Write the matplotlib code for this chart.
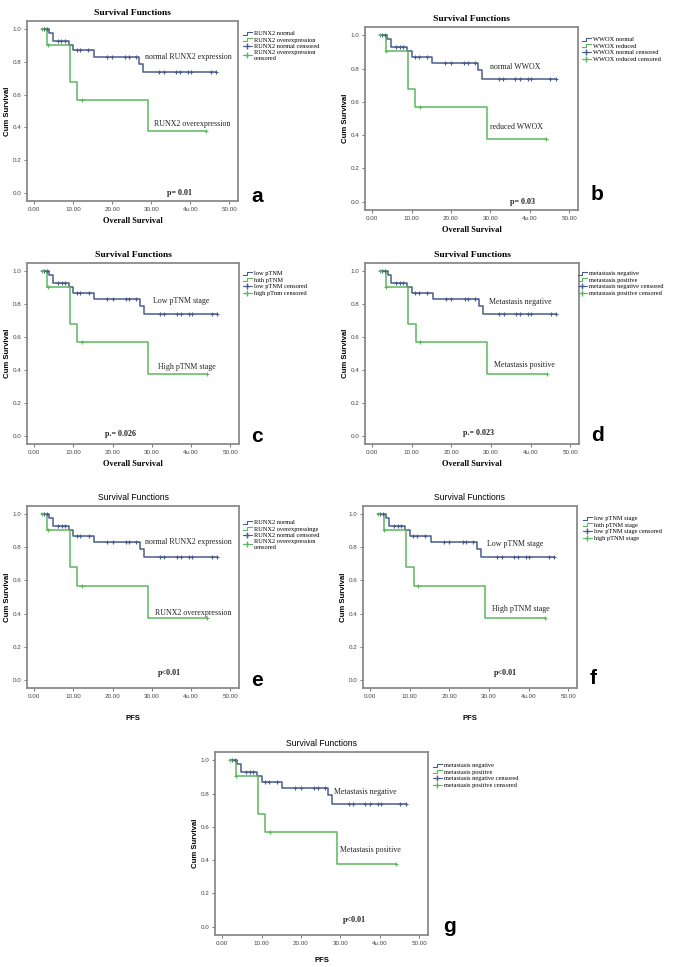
import numpy as np
import matplotlib
matplotlib.use('Agg')
import matplotlib.pyplot as plt
from matplotlib.lines import Line2D
from matplotlib.legend_handler import HandlerBase

# Kaplan-Meier curves (same shape in every panel)
normal_t = [2.0, 3.9, 4.8, 8.9, 10.0, 15.3, 26.9, 27.9, 46.5]
normal_s = [1.0, 0.978, 0.927, 0.904, 0.87, 0.833, 0.79, 0.74, 0.74]
normal_cens = [2.6, 3.2, 6.1, 7.0, 7.8, 10.9, 11.8, 13.9, 18.6, 20.0, 23.4,
               24.3, 26.0, 32.1, 33.2, 36.3, 37.4, 39.4, 40.2, 45.2, 46.5]

other_t = [2.0, 3.4, 9.1, 11.0, 29.1, 44.0]
other_s = [1.0, 0.905, 0.68, 0.567, 0.376, 0.376]
other_cens = [2.0, 3.6, 12.2, 44.0]

x_ticks = [0, 10, 20, 30, 40, 50]
x_ticklabels = ['0.00', '10.00', '20.00', '30.00', '4u.00', '50.00']
y_ticks = [0.0, 0.2, 0.4, 0.6, 0.8, 1.0]

# panel labels / texts
letters = ['a', 'b', 'c', 'd', 'e', 'f', 'g']
xlabels = ['Overall Survival'] * 4 + ['PFS'] * 3
upper_labels = ['normal RUNX2 expression', 'normal WWOX', 'Low pTNM stage',
                'Metastasis negative', 'normal RUNX2 expression',
                'Low pTNM stage', 'Metastasis negative']
lower_labels = ['RUNX2 overexpression', 'reduced WWOX', 'High pTNM stage',
                'Metastasis positive', 'RUNX2 overexpression',
                'High pTNM stage', 'Metastasis positive']
p_labels = ['p= 0.01', 'p= 0.03', 'p.= 0.026', 'p.= 0.023',
            'p<0.01', 'p<0.01', 'p<0.01']
legend_labels = [
    ['RUNX2 normal', 'RUNX2 overexpression', 'RUNX2 normal censored',
     'RUNX2 overexpression\ncensored'],
    ['WWOX normal', 'WWOX reduced', 'WWOX normal censored',
     'WWOX reduced censored'],
    ['low pTNM', 'hith pTNM', 'low pTNM censored', 'high pTnm censored'],
    ['metastasis negative', 'metastasis positive',
     'metastasis negative censored', 'metastasis positive censored'],
    ['RUNX2 normal', 'RUNX2 overexpressinge', 'RUNX2 normal censored',
     'RUNX2 overexpression\ncensored'],
    ['low pTNM stage', 'hith pTNM stage', 'low pTNM stage censored',
     'high pTNM stage'],
    ['metastasis negative', 'metastasis positive',
     'metastasis negative censored', 'metastasis positive censored'],
]

W, H = 685, 967
BLUE = '#4a5d8c'
GREEN = '#5cb85f'
SERIF = ['Liberation Serif', 'DejaVu Serif']
SANS = ['Liberation Sans', 'DejaVu Sans']

# layout in pixels: axes (left, top, right, bottom), legend corner, letter pos,
# text positions in data coords
axes_px = [(27, 21, 238, 201), (365, 27, 578, 210), (27, 263, 239, 444),
           (365, 263, 579, 444), (27, 506, 239, 688), (363, 506, 577, 688),
           (215, 752, 428, 935)]
legend_px = [(243, 31), (582, 37), (243, 271), (578, 271), (243, 520),
             (583, 516), (433, 763)]
letter_px = [(257, 196), (597, 194), (257, 437), (597, 436), (257, 681),
             (593, 678), (450, 927)]
xlabel_pad = [4, 4, 4, 4, 12, 12, 8]
upper_pos = [(28.3, 0.83), (29.8, 0.81), (30.4, 0.82), (29.5, 0.81),
             (28.3, 0.833), (29.6, 0.82), (28.3, 0.81)]
lower_pos = [(30.6, 0.42), (29.8, 0.45), (31.6, 0.42), (30.7, 0.43),
             (30.8, 0.405), (30.7, 0.43), (30.0, 0.46)]
p_pos = [(34.0, 0.0), (35.0, 0.0), (18.0, 0.012), (23.0, 0.015),
         (31.6, 0.04), (31.3, 0.04), (30.6, 0.04)]


class StepHandler(HandlerBase):
    def create_artists(self, legend, orig_handle, xdescent, ydescent,
                       width, height, fontsize, trans):
        x0, y0 = -xdescent, -ydescent
        xs = [x0, x0 + width * 0.45, x0 + width * 0.45, x0 + width]
        ys = [y0 + height * 0.2, y0 + height * 0.2, y0 + height * 0.8,
              y0 + height * 0.8]
        ln = Line2D(xs, ys, color=orig_handle.get_color(), lw=0.8)
        ln.set_transform(trans)
        return [ln]


def step_value(t, s, x):
    idx = np.searchsorted(t, x, side='right') - 1
    return np.asarray(s)[np.clip(idx, 0, len(s) - 1)]


fig = plt.figure(figsize=(W / 100, H / 100), dpi=100)

for i in range(7):
    l, t, r, b = axes_px[i]
    ax = fig.add_axes([l / W, 1 - b / H, (r - l) / W, (b - t) / H])
    sans_title = i >= 4

    line_n, = ax.step(normal_t, normal_s, where='post', color=BLUE, lw=1.1)
    line_o, = ax.step(other_t, other_s, where='post', color=GREEN, lw=1.1)
    ax.plot(normal_cens, step_value(normal_t, normal_s, normal_cens), '+',
            color=BLUE, ms=3.5, mew=0.8)
    ax.plot(other_cens, step_value(other_t, other_s, other_cens), '+',
            color=GREEN, ms=3.5, mew=0.8)

    ax.set_xlim(-1.8, 52.2)
    ax.set_ylim(-0.05, 1.05)
    ax.set_xticks(x_ticks)
    ax.set_xticklabels(x_ticklabels)
    ax.set_yticks(y_ticks)
    ax.set_yticklabels(['%.1f' % v for v in y_ticks])
    ax.tick_params(labelsize=4.5, length=2, width=0.5, pad=2,
                   colors='#444444')
    for lab in ax.get_xticklabels() + ax.get_yticklabels():
        lab.set_family(SANS)
    for sp in ax.spines.values():
        sp.set_color('#8a8a8a')
        sp.set_linewidth(1.3)

    if sans_title:
        ax.set_title('Survival Functions', fontsize=6.2, family=SANS, pad=4)
        ax.set_xlabel(xlabels[i], fontsize=5.5, family=SANS,
                      fontweight='bold', labelpad=xlabel_pad[i])
    else:
        ax.set_title('Survival Functions', fontsize=6.8, family=SERIF,
                     fontweight='bold', pad=4)
        ax.set_xlabel(xlabels[i], fontsize=6, family=SERIF,
                      fontweight='bold', labelpad=xlabel_pad[i])
    ax.set_ylabel('Cum Survival', fontsize=5.6, family=SANS,
                  fontweight='bold', labelpad=1.5)

    ax.text(upper_pos[i][0], upper_pos[i][1], upper_labels[i], fontsize=5.7,
            family=SERIF, va='center', color='#222222')
    ax.text(lower_pos[i][0], lower_pos[i][1], lower_labels[i], fontsize=5.7,
            family=SERIF, va='center', color='#222222')
    ax.text(p_pos[i][0], p_pos[i][1], p_labels[i], fontsize=5.8,
            family=SERIF, fontweight='bold', va='center', color='#222222')

    fig.text(letter_px[i][0] / W, 1 - letter_px[i][1] / H, letters[i],
             fontsize=15, family=SANS, fontweight='bold', ha='center',
             va='center')

    cens_n = Line2D([0], [0], color=BLUE, marker='+', ms=4, lw=0.7)
    cens_o = Line2D([0], [0], color=GREEN, marker='+', ms=4, lw=0.7)
    fig.legend([line_n, line_o, cens_n, cens_o], legend_labels[i],
               loc='upper left',
               bbox_to_anchor=(legend_px[i][0] / W, 1 - legend_px[i][1] / H),
               frameon=False, prop={'family': SERIF, 'size': 4.6},
               handlelength=1.4, handletextpad=0.3, labelspacing=0.15,
               borderpad=0, borderaxespad=0,
               handler_map={line_n: StepHandler(), line_o: StepHandler()})

fig.savefig('out.png', dpi=100, facecolor='white')
